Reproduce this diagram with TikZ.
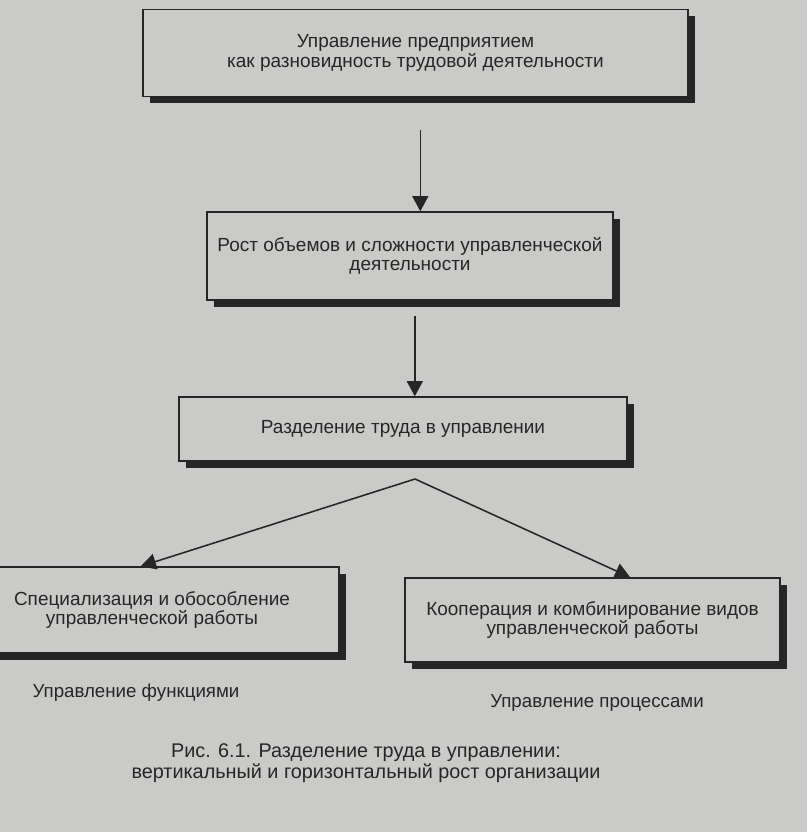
\documentclass[tikz,border=0pt]{standalone}
\usepackage{fontspec}
\setmainfont{Liberation Sans}
\usepackage{tikz}
\usetikzlibrary{arrows.meta, calc, shadows}
\definecolor{paper}{RGB}{202,202,200}
\definecolor{ink}{RGB}{38,38,38}
\tikzset{
	stagebox/.style={draw=ink, line width=1pt, fill=paper, inner sep=0pt,
		align=center, text=ink, font=\fontsize{13.5}{13.8}\selectfont,
		drop shadow={shadow xshift=0.17cm, shadow yshift=-0.17cm, fill=ink, opacity=1}}
}
\tikzset{
	flowarrow/.style={draw=ink, line width=1.1pt, -{Triangle[length=0.38cm, width=0.4cm]}}
}
\tikzset{
	plaintext/.style={text=ink, font=\fontsize{13.3}{16}\selectfont}
}
\begin{document}
\begin{tikzpicture}[x=0.025cm, y=-0.025cm]
      \fill[paper] (0,0) rectangle (807,832);
      \useasboundingbox (0,0) rectangle (807,832);
      \node[stagebox, minimum width=13.625cm, minimum height=2.175cm] (upr) at (415.5,53)
        {Управление предприятием\\как разновидность трудовой деятельности};
      \node[stagebox, minimum width=10.15cm, minimum height=2.2cm] (rost) at (410,256)
        {Рост объемов и сложности управленческой\\деятельности};
      \node[stagebox, minimum width=11.2cm, minimum height=1.6cm] (razd) at (403,429)
        {Разделение труда в управлении};
      \node[stagebox, minimum width=9.35cm, minimum height=2.15cm] (spec) at (152,610)
        {Специализация и обособление\\управленческой работы};
      \node[stagebox, minimum width=9.375cm, minimum height=2.1cm] (koop) at (592.5,620)
        {Кооперация и комбинирование видов\\управленческой работы};
      \coordinate (fork) at (415,479);
      \draw[flowarrow, shorten <=0.82cm] ([xshift=0.12cm]upr.south) -- ([xshift=0.12cm]upr.south |- rost.north);
      \draw[flowarrow, shorten <=0.37cm] ([xshift=0.12cm]rost.south) -- ([xshift=0.12cm]rost.south |- razd.north);
      \draw[flowarrow] (fork) -- ($(spec.north west)!0.47!(spec.north east)$);
      \draw[flowarrow] (fork) -- ($(koop.north west)!0.6!(koop.north east)$);
      \node[plaintext, anchor=base] (func) at (136,697) {Управление функциями};
      \node[plaintext, anchor=base] (proc) at (597,707) {Управление процессами};
      \node[plaintext, align=center, font=\fontsize{14.1}{14.8}\selectfont] (caption) at (366,763)
        {Рис. 6.1. Разделение труда в управлении:\\вертикальный и горизонтальный рост организации};
\end{tikzpicture}
\end{document}
